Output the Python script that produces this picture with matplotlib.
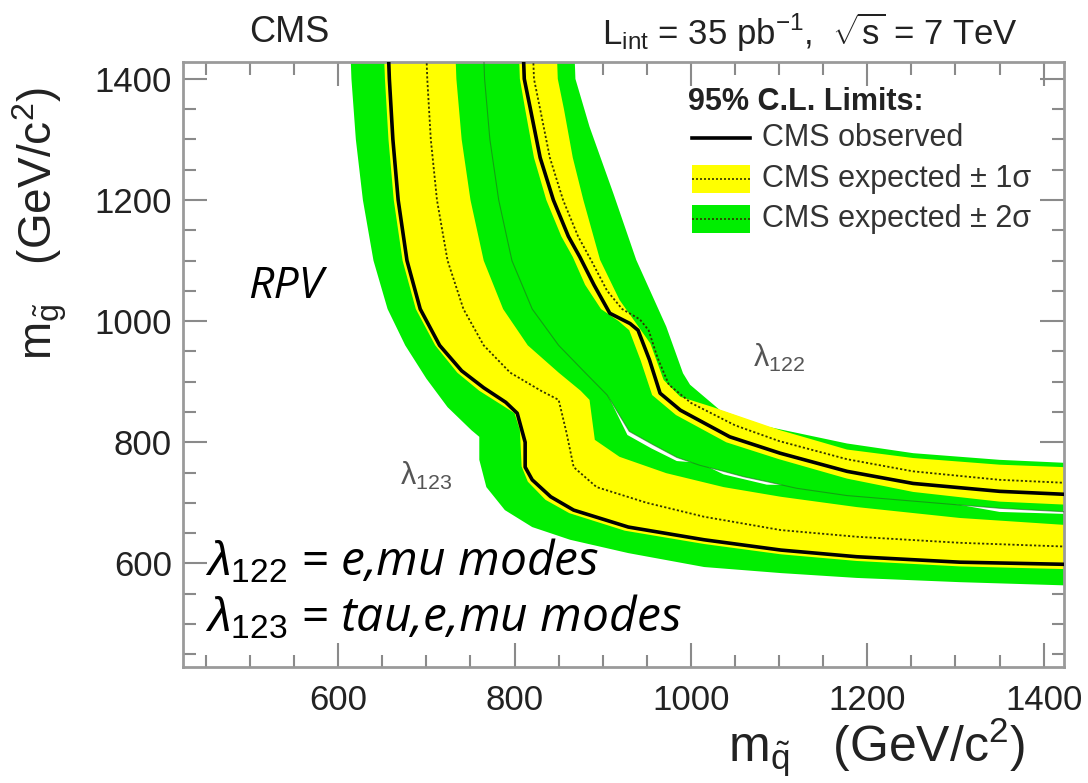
import matplotlib
matplotlib.use('Agg')
import matplotlib.pyplot as plt
from matplotlib.patches import Rectangle
from matplotlib.lines import Line2D
from matplotlib.ticker import MultipleLocator

plt.rcParams['font.family'] = ['Liberation Sans', 'DejaVu Sans']
plt.rcParams['mathtext.fontset'] = 'custom'
plt.rcParams['mathtext.rm'] = 'Liberation Sans'
plt.rcParams['mathtext.it'] = 'Liberation Sans:italic'
plt.rcParams['mathtext.bf'] = 'Liberation Sans:bold'

# ---------------- limit contours (squark mass, gluino mass) ----------------
# lambda_123 family
l123_lo2_x = [614, 615, 620, 628, 640, 656, 676, 700, 724, 751, 760, 760, 768, 789, 820, 863, 929, 1015, 1102, 1188, 1305, 1440]
l123_lo2_y = [1440, 1400, 1300, 1200, 1100, 1020, 960, 905, 858, 820, 809, 771, 726, 688, 660, 639, 617, 594, 584, 576, 569, 563]
l123_lo1_x = [652, 653, 657, 663, 673, 688, 710, 735, 760, 785, 800, 806, 808, 815, 835, 862, 925, 1015, 1102, 1188, 1305, 1440]
l123_lo1_y = [1440, 1400, 1300, 1200, 1100, 1020, 960, 915, 885, 862, 848, 820, 760, 735, 705, 683, 654, 632, 615, 604, 595, 590]
l123_obs_x = [657, 658, 662, 668, 678, 693, 715, 740, 765, 790, 803, 812, 812, 820, 841, 867, 929, 1015, 1102, 1188, 1305, 1440]
l123_obs_y = [1440, 1400, 1300, 1200, 1100, 1020, 960, 918, 890, 866, 848, 800, 759, 738, 710, 688, 660, 639, 622, 611, 602, 598]
l123_exp_x = [700, 701, 705, 712, 724, 742, 765, 795, 830, 850, 859, 867, 893, 950, 1015, 1102, 1188, 1305, 1440]
l123_exp_y = [1440, 1400, 1300, 1200, 1100, 1020, 960, 915, 885, 870, 815, 759, 726, 700, 677, 655, 644, 634, 627]
l123_hi1_x = [733, 734, 740, 750, 765, 787, 815, 850, 875, 885, 891, 919, 972, 1037, 1102, 1188, 1305, 1440]
l123_hi1_y = [1440, 1400, 1300, 1200, 1100, 1020, 960, 915, 885, 870, 804, 776, 749, 726, 710, 693, 675, 662]
l123_hi2_x = [775, 776, 782, 792, 807, 830, 858, 885, 905, 928, 955, 984, 1010, 1037, 1086, 1120, 1177, 1300, 1350, 1440]
l123_hi2_y = [1440, 1400, 1300, 1200, 1100, 1020, 960, 915, 880, 812, 790, 769, 766, 747, 730, 729, 716, 698, 685, 681]

# lambda_122 family
l122_lo2_x = [765, 766, 772, 782, 797, 820, 850, 880, 905, 930, 957, 984, 1010, 1037, 1060, 1086, 1120, 1177, 1300, 1350, 1440]
l122_lo2_y = [1440, 1400, 1300, 1200, 1100, 1020, 960, 915, 878, 818, 796, 775, 762, 752, 743, 735, 724, 712, 697, 691, 684]
l122_lo1_x = [805, 806, 812, 822, 836, 853, 866, 880, 898, 918, 930, 943, 956, 983, 1040, 1100, 1177, 1252, 1350, 1440]
l122_lo1_y = [1440, 1400, 1350, 1270, 1200, 1140, 1106, 1060, 1020, 1000, 985, 935, 878, 845, 800, 772, 740, 718, 702, 696]
l122_obs_x = [810, 811, 818, 829, 844, 861, 874, 890, 908, 931, 940, 953, 965, 988, 1044, 1101, 1177, 1252, 1350, 1440]
l122_obs_y = [1440, 1400, 1350, 1270, 1200, 1140, 1106, 1060, 1013, 996, 985, 936, 881, 853, 809, 782, 752, 732, 719, 713]
l122_exp_x = [821, 822, 829, 840, 855, 872, 887, 905, 922, 942, 952, 962, 975, 1000, 1050, 1100, 1177, 1252, 1350, 1440]
l122_exp_y = [1440, 1400, 1350, 1270, 1200, 1140, 1100, 1050, 1020, 1003, 985, 940, 895, 865, 828, 802, 772, 752, 738, 732]
l122_hi1_x = [848, 849, 856, 866, 878, 897, 919, 938, 954, 969, 988, 1025, 1101, 1177, 1252, 1350, 1440]
l122_hi1_y = [1440, 1400, 1350, 1270, 1200, 1101, 1035, 996, 963, 903, 875, 858, 820, 788, 774, 763, 758]
l122_hi2_x = [868, 869, 885, 912, 938, 972, 991, 999, 1033, 1086, 1177, 1252, 1350, 1440]
l122_hi2_y = [1440, 1400, 1321, 1211, 1101, 991, 914, 895, 853, 826, 798, 782, 771, 765]

x_major = [600, 800, 1000, 1200, 1400]
y_major = [600, 800, 1000, 1200, 1400]

YELLOW = '#ffff00'
GREEN = '#00ee00'
DOT = (0, (1.2, 1.2))


def band(ax, lo_x, lo_y, hi_x, hi_y, color):
    xs = list(lo_x) + list(hi_x)[::-1]
    ys = list(lo_y) + list(hi_y)[::-1]
    ax.fill(xs, ys, color=color, lw=0, zorder=2)


fig = plt.figure(figsize=(10.88, 7.83), dpi=100)
ax = fig.add_axes([0.1682, 0.1482, 0.8097, 0.7727])

# 2 sigma bands, then 1 sigma bands
band(ax, l123_lo2_x, l123_lo2_y, l123_hi2_x, l123_hi2_y, GREEN)
band(ax, l122_lo2_x, l122_lo2_y, l122_hi2_x, l122_hi2_y, GREEN)
band(ax, l123_lo1_x, l123_lo1_y, l123_hi1_x, l123_hi1_y, YELLOW)
band(ax, l122_lo1_x, l122_lo1_y, l122_hi1_x, l122_hi1_y, YELLOW)

# thin outline inside the green region
ax.plot(l122_lo2_x, l122_lo2_y, color='#1f6f1f', lw=0.8, alpha=0.6, zorder=3)

# expected (dotted) and observed (solid)
for xs, ys in [(l123_exp_x, l123_exp_y), (l122_exp_x, l122_exp_y)]:
    ax.plot(xs, ys, color='#333300', lw=1.3, ls=DOT, zorder=4)
for xs, ys in [(l123_obs_x, l123_obs_y), (l122_obs_x, l122_obs_y)]:
    ax.plot(xs, ys, color='black', lw=2.6, zorder=5)

ax.set_xlim(424, 1423)
ax.set_ylim(429, 1428)
ax.set_xticks(x_major)
ax.set_yticks(y_major)
ax.xaxis.set_minor_locator(MultipleLocator(50))
ax.yaxis.set_minor_locator(MultipleLocator(50))
ax.tick_params(which='both', direction='in', top=True, right=True,
               color='#8a8a8a', width=1.5, labelsize=25, labelcolor='#222222')
ax.tick_params(which='major', length=17)
ax.tick_params(which='minor', length=9)
ax.tick_params(axis='x', pad=12)
ax.tick_params(axis='y', pad=8)
for sp in ax.spines.values():
    sp.set_color('#9a9a9a')
    sp.set_linewidth(2)

# legend drawn by hand
tr = ax.transAxes
ax.text(0.573, 0.934, '95% C.L. Limits:', transform=tr, fontsize=22,
        fontweight='bold', color='#222222', va='center', ha='left', zorder=6)
ax.add_line(Line2D([0.578, 0.644], [0.874, 0.874], transform=tr, color='black', lw=2.6, zorder=6))
ax.add_patch(Rectangle((0.578, 0.784), 0.066, 0.046, transform=tr, color=YELLOW, lw=0, zorder=6))
ax.add_line(Line2D([0.578, 0.644], [0.807, 0.807], transform=tr, color='#333300', lw=1.2,
                   ls=DOT, zorder=7))
ax.add_patch(Rectangle((0.578, 0.717), 0.066, 0.046, transform=tr, color=GREEN, lw=0, zorder=6))
ax.add_line(Line2D([0.578, 0.644], [0.740, 0.740], transform=tr, color='#333300', lw=1.2,
                   ls=DOT, zorder=7))
for yy, lab in [(0.874, 'CMS observed'), (0.807, 'CMS expected \u00b1 1\u03c3'),
                (0.740, 'CMS expected \u00b1 2\u03c3')]:
    ax.text(0.657, yy, lab, transform=tr, fontsize=22, color='#333333',
            va='center', ha='left', zorder=6)

# curve labels
ax.text(1070, 940, r'$\mathrm{\lambda}_{122}$', fontsize=22, color='#555555', va='center', zorder=6)
ax.text(670, 745, r'$\mathrm{\lambda}_{123}$', fontsize=22, color='#555555', va='center', zorder=6)

# annotations
ax.text(498, 1056, 'RPV', fontsize=32, fontfamily='Open Sans', style='italic',
        color='black', va='center', ha='left', zorder=6)
ax.text(449, 602, r'$\mathit{\lambda}_{\mathit{122}}$ = e,mu modes', fontsize=34.5,
        fontfamily='Open Sans', style='italic', color='black', va='center', ha='left', zorder=6)
ax.text(449, 510, r'$\mathit{\lambda}_{\mathit{123}}$ = tau,e,mu modes', fontsize=34.5,
        fontfamily='Open Sans', style='italic', color='black', va='center', ha='left', zorder=6)

# header and axis titles
fig.text(0.2656, 0.958, 'CMS', fontsize=26, color='#222222', ha='center', va='center')
fig.text(0.935, 0.958, r'L$_{\rm int}$ = 35 pb$^{-1}$,  $\sqrt{\rm s}$ = 7 TeV', fontsize=25,
         color='#222222', ha='right', va='center')
fig.text(0.942, 0.045, r'm$_{\tilde{\rm q}}$   (GeV/c$^{2}$)', fontsize=36, color='#222222',
         ha='right', va='center')
fig.text(0.037, 0.889, r'm$_{\tilde{\rm g}}$   (GeV/c$^{2}$)', fontsize=33, color='#222222',
         ha='center', va='top', rotation=90)

fig.savefig('out.png', dpi=100)
